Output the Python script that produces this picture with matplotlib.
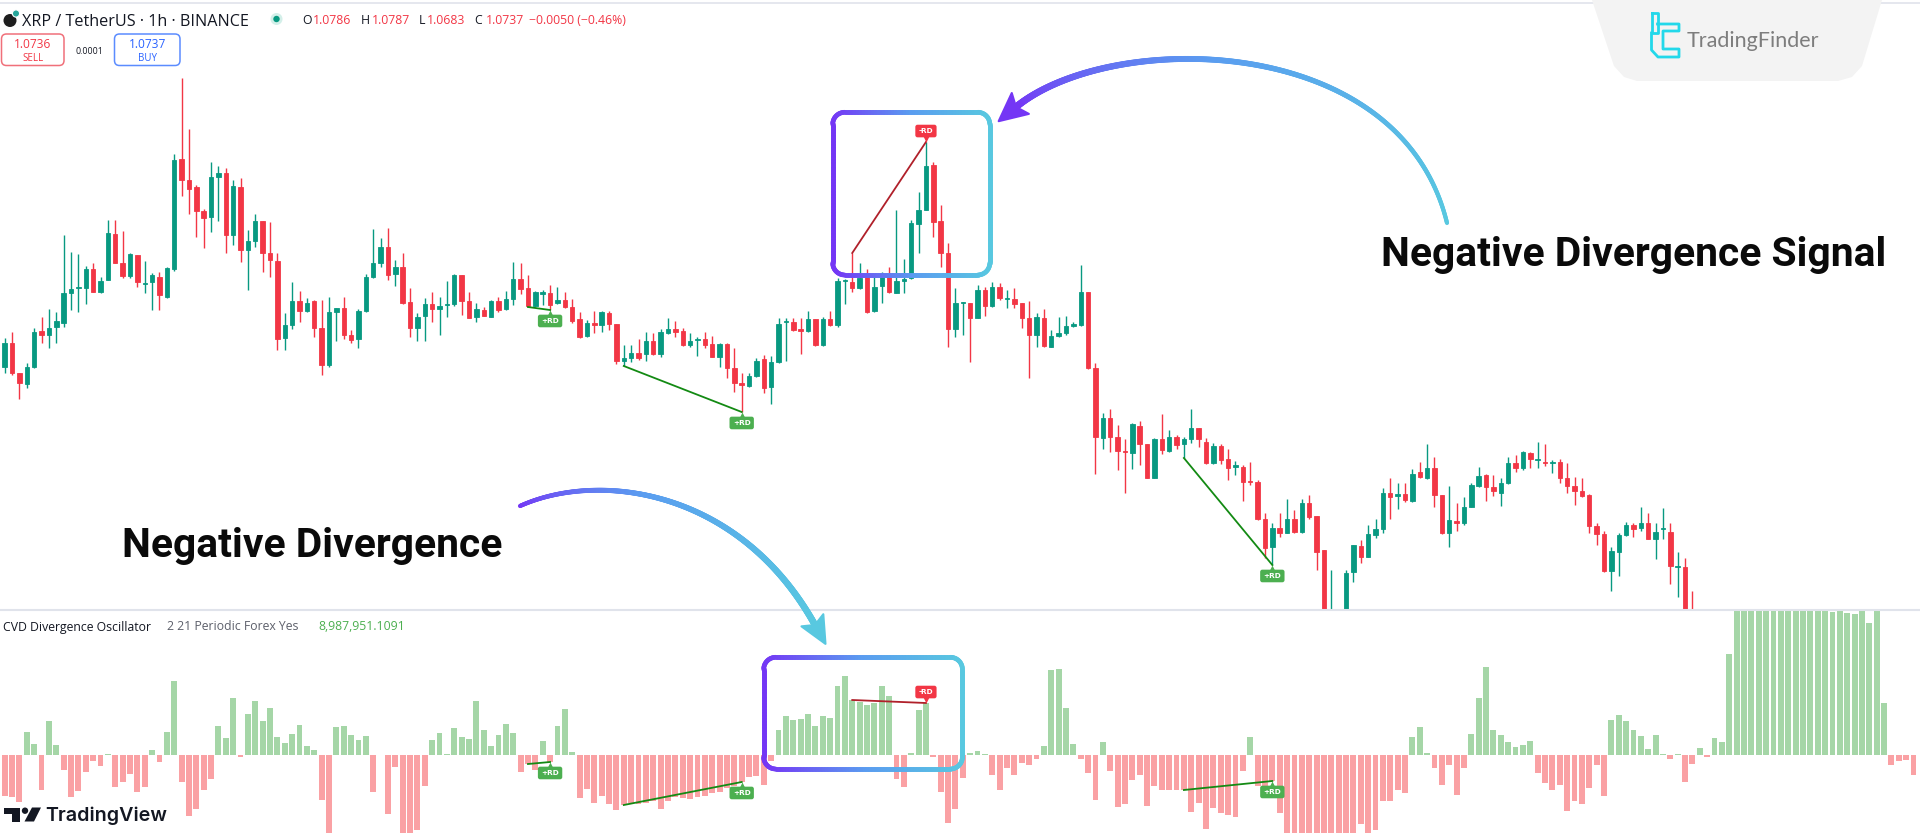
import numpy as np
import matplotlib
matplotlib.use("Agg")
import matplotlib.pyplot as plt
from matplotlib.collections import LineCollection
from matplotlib.colors import LinearSegmentedColormap
from matplotlib.patches import Polygon, FancyBboxPatch, Circle
from matplotlib.transforms import offset_copy

# ---------------- data (price in 0.0001 USDT units, CVD in millions) ----------------
open_t = [
    11233, 11257, 11227, 11216, 11233, 11269, 11265, 11273, 11277, 11307,
    11312, 11312, 11331, 11308, 11320, 11366, 11337, 11324, 11345, 11316,
    11318, 11323, 11303, 11331, 11441, 11420, 11413, 11389, 11383, 11423,
    11427, 11365, 11413, 11350, 11359, 11379, 11347, 11339, 11262, 11275,
    11299, 11289, 11299, 11272, 11235, 11288, 11292, 11265, 11261, 11289,
    11323, 11337, 11353, 11326, 11333, 11298, 11272, 11284, 11296, 11291,
    11295, 11296, 11325, 11299, 11283, 11290, 11283, 11299, 11291, 11301,
    11321, 11312, 11294, 11306, 11307, 11297, 11300, 11293, 11281, 11264,
    11277, 11275, 11287, 11276, 11239, 11242, 11247, 11246, 11259, 11246,
    11267, 11271, 11269, 11255, 11260, 11261, 11256, 11243, 11256, 11232,
    11217, 11214, 11224, 11241, 11213, 11238, 11278, 11278, 11271, 11269,
    11281, 11255, 11281, 11275, 11319, 11318, 11312, 11323, 11289, 11314,
    11323, 11307, 11319, 11322, 11376, 11390, 11435, 11379, 11347, 11271,
    11297, 11297, 11282, 11310, 11294, 11313, 11301, 11301, 11297, 11282,
    11265, 11282, 11253, 11264, 11267, 11274, 11275, 11308, 11232, 11162,
    11182, 11163, 11149, 11147, 11174, 11156, 11122, 11161, 11149, 11163,
    11156, 11161, 11172, 11158, 11137, 11154, 11141, 11133, 11133, 11119,
    11118, 11081, 11053, 11072, 11067, 11081, 11068, 11097, 11084, 11050,
    10960, 10975, 10975, 11028, 11054, 11043, 11065, 11071, 11107, 11104,
    11106, 11099, 11128, 11122, 11132, 11105, 11067, 11079, 11077, 11093,
    11114, 11125, 11113, 11107, 11117, 11137, 11132, 11147, 11140, 11138,
    11137, 11138, 11122, 11114, 11109, 11105, 11074, 11066, 11029, 11048,
    11065, 11075, 11072, 11077, 11061, 11071, 11068, 11033, 11033, 10980,
]
high_t = [
    11262, 11268, 11227, 11237, 11272, 11283, 11291, 11288, 11365, 11348,
    11346, 11334, 11337, 11323, 11380, 11380, 11369, 11347, 11345, 11339,
    11327, 11328, 11333, 11446, 11522, 11471, 11415, 11391, 11438, 11434,
    11432, 11420, 11422, 11370, 11386, 11379, 11378, 11347, 11287, 11318,
    11309, 11302, 11300, 11300, 11303, 11292, 11303, 11270, 11291, 11326,
    11371, 11362, 11372, 11340, 11347, 11312, 11287, 11302, 11308, 11303,
    11319, 11326, 11325, 11308, 11297, 11293, 11300, 11303, 11309, 11338,
    11337, 11325, 11309, 11310, 11315, 11313, 11308, 11301, 11288, 11280,
    11289, 11289, 11289, 11276, 11255, 11255, 11261, 11268, 11267, 11271,
    11282, 11279, 11272, 11267, 11263, 11268, 11264, 11257, 11257, 11252,
    11227, 11227, 11242, 11245, 11244, 11282, 11282, 11282, 11282, 11289,
    11281, 11283, 11289, 11322, 11321, 11347, 11337, 11331, 11323, 11328,
    11333, 11390, 11341, 11380, 11408, 11458, 11438, 11395, 11357, 11312,
    11298, 11297, 11315, 11313, 11318, 11317, 11310, 11312, 11297, 11299,
    11287, 11291, 11270, 11283, 11284, 11278, 11335, 11308, 11237, 11187,
    11191, 11175, 11161, 11177, 11179, 11156, 11162, 11186, 11170, 11165,
    11163, 11191, 11172, 11162, 11157, 11156, 11151, 11139, 11135, 11138,
    11120, 11087, 11077, 11087, 11101, 11090, 11101, 11105, 11084, 11050,
    11030, 10989, 11030, 11055, 11060, 11075, 11081, 11112, 11122, 11117,
    11117, 11131, 11138, 11156, 11143, 11105, 11114, 11097, 11103, 11117,
    11133, 11126, 11125, 11122, 11143, 11145, 11149, 11148, 11158, 11156,
    11140, 11141, 11137, 11123, 11122, 11106, 11077, 11069, 11053, 11067,
    11078, 11077, 11093, 11087, 11077, 11092, 11077, 11048, 11042, 11009,
]
low_t = [
    11227, 11225, 11201, 11212, 11232, 11257, 11252, 11257, 11273, 11290,
    11288, 11296, 11308, 11307, 11320, 11337, 11322, 11322, 11313, 11307,
    11290, 11290, 11302, 11329, 11404, 11386, 11363, 11352, 11368, 11379,
    11347, 11355, 11338, 11310, 11353, 11328, 11323, 11250, 11250, 11271,
    11278, 11288, 11263, 11225, 11233, 11259, 11261, 11257, 11252, 11288,
    11322, 11333, 11320, 11314, 11296, 11263, 11259, 11259, 11278, 11265,
    11283, 11294, 11285, 11282, 11278, 11284, 11283, 11288, 11290, 11295,
    11306, 11293, 11293, 11295, 11290, 11296, 11292, 11277, 11262, 11263,
    11267, 11268, 11270, 11236, 11234, 11238, 11240, 11239, 11245, 11243,
    11266, 11263, 11254, 11253, 11244, 11252, 11243, 11233, 11222, 11208,
    11188, 11213, 11223, 11207, 11196, 11237, 11239, 11269, 11246, 11268,
    11254, 11254, 11274, 11273, 11296, 11308, 11311, 11287, 11288, 11297,
    11307, 11307, 11307, 11321, 11347, 11390, 11363, 11333, 11253, 11263,
    11265, 11238, 11282, 11284, 11293, 11300, 11292, 11292, 11272, 11222,
    11253, 11253, 11253, 11263, 11265, 11273, 11274, 11231, 11126, 11151,
    11148, 11130, 11107, 11131, 11135, 11122, 11122, 11146, 11148, 11151,
    11142, 11157, 11153, 11136, 11136, 11136, 11120, 11125, 11099, 11115,
    11080, 11042, 11035, 11063, 11067, 11067, 11067, 11081, 11030, 10960,
    10950, 10960, 10970, 11018, 11037, 11043, 11062, 11067, 11081, 11091,
    11098, 11098, 11122, 11121, 11093, 11066, 11053, 11069, 11075, 11093,
    11113, 11099, 11104, 11094, 11116, 11128, 11130, 11132, 11132, 11134,
    11127, 11117, 11107, 11095, 11103, 11067, 11055, 11028, 11009, 11024,
    11064, 11063, 11069, 11061, 11041, 11061, 11016, 11003, 10950, 10940,
]
close_t = [
    11257, 11227, 11217, 11233, 11268, 11265, 11272, 11279, 11307, 11311,
    11313, 11331, 11308, 11319, 11367, 11337, 11324, 11346, 11318, 11317,
    11325, 11305, 11332, 11440, 11420, 11411, 11389, 11382, 11423, 11427,
    11365, 11414, 11350, 11359, 11379, 11347, 11340, 11261, 11275, 11299,
    11289, 11297, 11272, 11235, 11288, 11292, 11265, 11260, 11289, 11323,
    11337, 11353, 11325, 11333, 11297, 11272, 11283, 11296, 11291, 11294,
    11296, 11325, 11299, 11282, 11291, 11284, 11299, 11290, 11301, 11321,
    11311, 11294, 11308, 11308, 11295, 11300, 11293, 11279, 11263, 11277,
    11275, 11288, 11276, 11239, 11242, 11247, 11242, 11259, 11246, 11268,
    11271, 11268, 11255, 11259, 11261, 11255, 11243, 11256, 11232, 11217,
    11215, 11224, 11239, 11212, 11238, 11276, 11279, 11270, 11269, 11281,
    11255, 11281, 11275, 11319, 11320, 11312, 11322, 11288, 11313, 11323,
    11308, 11319, 11321, 11377, 11390, 11434, 11378, 11347, 11271, 11297,
    11298, 11282, 11310, 11294, 11313, 11302, 11302, 11296, 11282, 11265,
    11283, 11254, 11264, 11267, 11274, 11276, 11308, 11232, 11163, 11182,
    11163, 11149, 11148, 11176, 11156, 11122, 11161, 11150, 11163, 11155,
    11161, 11172, 11161, 11137, 11154, 11140, 11132, 11135, 11118, 11118,
    11081, 11052, 11072, 11067, 11081, 11068, 11097, 11083, 11048, 10975,
    10985, 10985, 11027, 11055, 11043, 11066, 11071, 11107, 11103, 11106,
    11100, 11126, 11123, 11132, 11105, 11067, 11080, 11077, 11093, 11115,
    11124, 11113, 11109, 11117, 11137, 11132, 11148, 11141, 11141, 11137,
    11138, 11122, 11114, 11109, 11104, 11074, 11066, 11029, 11049, 11065,
    11075, 11071, 11077, 11061, 11068, 11072, 11034, 11034, 10960, 10960,
]
cvd_m = [
    -4.1, -4.2, -4.7, 2.3, 1.1, -3.5, 3.4, 1.0, -1.5, -4.2,
    -3.6, -1.7, -0.6, -1.1, 0.1, -3.2, -2.7, -1.9, -3.7, -3.2,
    0.5, -0.7, 2.3, 7.4, -2.7, -6.1, -5.4, -3.5, -2.4, 2.9,
    1.7, 5.7, -0.2, 4.1, 5.4, 3.4, 4.7, 1.8, 1.2, 2.1,
    3.0, 0.9, 0.5, -4.5, -7.8, 2.8, 2.9, 2.0, 1.5, 1.9,
    -3.7, 0.05, -5.9, -1.2, -7.8, -7.8, -7.5, -3.1, 1.5, 2.2,
    0.1, 2.7, 1.8, 1.6, 5.4, 2.5, 0.9, 2.0, 3.1, 2.2,
    -1.7, -0.9, -1.5, 1.4, -0.7, 2.9, 4.6, 0.3, -4.3, -3.4,
    -4.8, -4.1, -4.9, -5.5, -5.0, -4.8, -4.9, -4.8, -4.6, -5.4,
    -4.6, -4.2, -4.3, -4.4, -4.2, -4.1, -3.8, -3.7, -3.3, -3.1,
    -2.7, -2.2, -2.1, -3.0, -0.6, 2.5, 3.9, 3.5, 3.6, 4.1,
    2.9, 3.9, 3.7, 6.9, 7.9, 5.5, 5.3, 5.0, 5.2, 6.9,
    5.9, -2.4, -3.2, 0.2, 4.5, 5.2, -0.2, -3.7, -6.8, -5.4,
    -2.3, 0.2, 0.4, 0.1, -2.0, -3.5, -1.3, -2.0, -0.8, -1.0,
    -0.4, 0.9, 8.5, 8.6, 4.7, 1.1, -0.4, -1.8, -4.5, 1.3,
    -1.6, -5.2, -4.9, -2.5, -2.0, -5.1, -3.1, -3.5, -3.5, -3.5,
    -3.5, -5.7, -4.8, -7.4, -5.3, -5.8, -6.0, -6.2, -1.6, 1.8,
    -3.1, -3.1, -2.6, -5.8, -7.8, -7.8, -7.8, -7.8, -7.8, -7.8,
    -7.8, -7.8, -7.8, -7.8, -6.9, -7.8, -7.5, -4.6, -4.6, -3.5,
    -3.8, 1.8, 2.8, 0.2, -1.3, -3.0, -1.0, -4.0, -1.3, 2.1,
    5.7, 8.8, 2.5, 2.0, 1.3, 0.8, 1.0, 1.4, -1.8, -2.8,
    -3.5, -3.0, -5.6, -4.6, -4.9, -3.3, -1.0, -4.1, 3.5, 4.0,
    3.4, 2.5, 1.9, 0.6, 2.0, 0.1, -0.4, 0.1, -2.7, -0.9,
    0.7, -0.2, 1.7, 1.3, 10.1, 16.0, 16.0, 16.0, 16.0, 16.0,
    16.0, 16.0, 16.0, 16.0, 16.0, 16.0, 16.0, 16.0, 14.3, 16.0,
    14.2, 14.1, 16.0, 13.2, 16.0, 5.2, -1.0, -0.6, -0.5, -2.0,
]
# divergences: (start bar, end bar, kind)
divergences = [(71, 74, "bull"), (84, 100, "bull"), (115, 125, "bear"), (160, 172, "bull")]

header_symbol = "XRP / TetherUS · 1h · BINANCE"
ohlc_labels = ["O", "H", "L", "C"]
ohlc_values = ["1.0786", "1.0787", "1.0683", "1.0737"]
change_text = "−0.0050 (−0.46%)"
sell_price, buy_price, spread = "1.0736", "1.0737", "0.0001"
ind_name, ind_params, ind_value = "CVD Divergence Oscillator", "2 21 Periodic Forex Yes", "8,987,951.1091"

# ---------------- styling ----------------
UP, DN = "#089981", "#f23645"
H_UP, H_DN = "#a5d6a7", "#faa1a4"
G_LINE, R_LINE = "#138a13", "#b0202a"
LBL_G, LBL_R = "#4caf50", "#f23645"
pc_cmap = LinearSegmentedColormap.from_list("pc", ["#7436f5", "#5a9cf0", "#58c8e0"])

W, H = 1920, 840
fig = plt.figure(figsize=(W / 100, H / 100), dpi=100)
fig.patch.set_facecolor("white")

SP, X0 = 7.37, 4.7
XLIM = (-X0 / SP, (W - X0) / SP)
SEP = 609

o = np.array(open_t) / 1e4
hi = np.array(high_t) / 1e4
lo = np.array(low_t) / 1e4
c = np.array(close_t) / 1e4
cvd = np.array(cvd_m)

# ---------------- price panel ----------------
ax_p = fig.add_axes([0, 1 - SEP / H, 1, SEP / H])
ax_p.set_xlim(*XLIM)
ax_p.set_ylim(1.0991, 1.16)
ax_p.axis("off")
idx = np.arange(len(o))
cols = np.where(c >= o, UP, DN)
ax_p.vlines(idx, lo, hi, colors=cols, lw=1.0, zorder=2)
ax_p.bar(idx, np.abs(c - o), bottom=np.minimum(o, c), width=0.6, color=cols,
         edgecolor=cols, lw=0.6, zorder=3)

# ---------------- histogram panel ----------------
ax_h = fig.add_axes([0, 0, 1, (H - 611) / H])
ax_h.set_xlim(*XLIM)
ax_h.set_ylim(-8.5, 14.4)
ax_h.axis("off")
hidx = np.arange(len(cvd))
ax_h.bar(hidx, cvd, width=0.8, color=np.where(cvd >= 0, H_UP, H_DN), lw=0, zorder=2)


def rd_label(ax, x, y, txt, col, up):
    s = 1 if up else -1
    ax.annotate(txt, xy=(x, y), xytext=(0, s * 7.9), textcoords="offset points",
                ha="center", va="center", fontsize=5.3, fontweight="bold", color="white",
                family=["DejaVu Sans"],
                bbox=dict(boxstyle="round,pad=0.45,rounding_size=0.3", fc=col, ec="none"),
                zorder=9, annotation_clip=False)
    tr = offset_copy(ax.transData, fig=fig, x=0, y=s * 2.3, units="points")
    ax.plot([x], [y], marker="v" if up else "^", ms=4.2, color=col, mec="none",
            transform=tr, zorder=9, clip_on=False)


for a, b, kind in divergences:
    if kind == "bull":
        ax_p.plot([a, b], [lo[a], lo[b]], color=G_LINE, lw=1.3, zorder=8)
        rd_label(ax_p, b, lo[b], "+RD", LBL_G, False)
        ax_h.plot([a, b], [cvd[a], cvd[b]], color=G_LINE, lw=1.3, zorder=8)
        rd_label(ax_h, b, cvd[b], "+RD", LBL_G, False)
    else:
        ax_p.plot([a, b], [hi[a], hi[b]], color=R_LINE, lw=1.3, zorder=8)
        rd_label(ax_p, b, hi[b], "-RD", LBL_R, True)
        ax_h.plot([a, b], [cvd[a], cvd[b]], color=R_LINE, lw=1.3, zorder=8)
        rd_label(ax_h, b, cvd[b], "-RD", LBL_R, True)

# ---------------- overlay (pixel coordinates, y downwards) ----------------
ov = fig.add_axes([0, 0, 1, 1])
ov.set_xlim(0, W)
ov.set_ylim(H, 0)
ov.axis("off")

ov.plot([0, W], [2.5, 2.5], color="#e0e3eb", lw=1.2, zorder=1)
ov.plot([0, W], [SEP + 1, SEP + 1], color="#e0e3eb", lw=1.5, zorder=1)


def densify(pts, step=1.5):
    pts = np.asarray(pts, float)
    out = [pts[0]]
    for p, q in zip(pts[:-1], pts[1:]):
        n = max(1, int(np.hypot(*(q - p)) / step))
        for k in range(1, n + 1):
            out.append(p + (q - p) * k / n)
    return np.array(out)


def grad_line(pts, vals, lw, z=10):
    segs = np.stack([pts[:-1], pts[1:]], axis=1)
    lc = LineCollection(segs, colors=pc_cmap(np.clip(vals, 0, 1)), linewidths=lw,
                        capstyle="round", joinstyle="round", zorder=z)
    ov.add_collection(lc)


def rounded_rect(x0, y0, x1, y1, r):
    pts = []
    for cx, cy, a0, a1 in [(x1 - r, y0 + r, -90, 0), (x1 - r, y1 - r, 0, 90),
                           (x0 + r, y1 - r, 90, 180), (x0 + r, y0 + r, 180, 270)]:
        a = np.radians(np.linspace(a0, a1, 16))
        pts += list(zip(cx + r * np.cos(a), cy + r * np.sin(a)))
    pts.append(pts[0])
    return densify(pts)


for (x0, y0, x1, y1) in [(832.7, 112.3, 989.8, 275.0), (763.7, 657.3, 962.4, 769.0)]:
    pts = rounded_rect(x0, y0, x1, y1, 12)
    mid = 0.5 * (pts[:-1, 0] + pts[1:, 0])
    grad_line(pts, (mid - x0) / (x1 - x0), 3.4)


def bezier(P, n=400):
    P = np.asarray(P, float)
    t = np.linspace(0, 1, n)[:, None]
    return ((1 - t) ** 3) * P[0] + 3 * ((1 - t) ** 2) * t * P[1] + 3 * (1 - t) * t ** 2 * P[2] + t ** 3 * P[3]


def arrow_head(tip_base, d, L, w, col):
    d = np.asarray(d, float)
    d = d / np.linalg.norm(d)
    n = np.array([-d[1], d[0]])
    base = np.asarray(tip_base, float)
    tip = base + 0.8 * L * d
    pts = [tip, tip - L * d + w * n, base, tip - L * d - w * n]
    ov.add_patch(Polygon(pts, closed=True, fc=col, ec=col, lw=1.5, joinstyle="round", zorder=11))


# top arrow: tail (right, cyan) -> head (left, purple)
P = [(1447, 223), (1400, 30), (1110, 30), (1016, 107)]
pts = bezier(P)
t = np.linspace(0, 1, len(pts) - 1)
grad_line(pts, (1 - t) ** 0.8, np.linspace(3.0, 5.0, len(t)))
arrow_head(P[3], np.subtract(P[3], P[2]), 28, 13.5, pc_cmap(0.0))

# bottom arrow: tail (left, purple) -> head (right, cyan)
P = [(520, 506), (600, 470), (740, 490), (815, 625)]
pts = bezier(P)
t = np.linspace(0, 1, len(pts) - 1)
grad_line(pts, t ** 0.8, np.linspace(3.0, 4.8, len(t)))
arrow_head(P[3], np.subtract(P[3], P[2]), 27, 12.5, pc_cmap(1.0))

big = dict(fontsize=29.3, fontweight="bold", color="#0a0a0a", family=["Roboto", "DejaVu Sans"],
           va="baseline", ha="left", zorder=12)
ov.text(1381, 266, "Negative Divergence Signal", **big)
ov.text(122, 557, "Negative Divergence", **big)

# ---------------- header ----------------
hf = ["Open Sans", "DejaVu Sans"]
ov.add_patch(Circle((10, 20.5), 6.5, fc="#1e1e1e", ec="none", zorder=5))
ov.add_patch(Circle((16, 13.5), 3.6, fc="#26a69a", ec="white", lw=0.8, zorder=6))
ov.text(22, 25.5, header_symbol, fontsize=11.6, color="#131722", family=hf, va="baseline", zorder=5)
ov.add_patch(Circle((276.5, 19), 6.0, fc="#d3efe9", ec="none", zorder=5))
ov.add_patch(Circle((276.5, 19), 3.2, fc="#089981", ec="none", zorder=6))
lab_x = [302, 361, 419, 474]
val_x = [312.5, 372, 427, 486]
for lx, vx, lt, vt in zip(lab_x, val_x, ohlc_labels, ohlc_values):
    ov.text(lx, 24.5, lt, fontsize=8.8, color="#131722", family=hf, va="baseline", zorder=5)
    ov.text(vx, 24.5, vt, fontsize=8.8, color="#f23645", family=hf, va="baseline", zorder=5)
ov.text(529, 24.5, change_text, fontsize=8.8, color="#f23645", family=hf, va="baseline", zorder=5)

ov.add_patch(FancyBboxPatch((1.5, 34), 62.5, 31.5, boxstyle="round,pad=0,rounding_size=5",
                            fc="white", ec="#f0707a", lw=1.1, zorder=5))
ov.text(32.7, 47.5, sell_price, fontsize=8.6, color="#f23645", family=hf, ha="center", va="baseline", zorder=6)
ov.text(32.7, 61, "SELL", fontsize=7.0, color="#f23645", family=hf, ha="center", va="baseline", zorder=6)
ov.text(89, 53.5, spread, fontsize=6.3, color="#131722", family=hf, ha="center", va="baseline", zorder=6)
ov.add_patch(FancyBboxPatch((114.5, 34), 65.5, 31.5, boxstyle="round,pad=0,rounding_size=5",
                            fc="white", ec="#5b8cff", lw=1.1, zorder=5))
ov.text(147.2, 47.5, buy_price, fontsize=8.6, color="#2962ff", family=hf, ha="center", va="baseline", zorder=6)
ov.text(147.2, 61, "BUY", fontsize=7.0, color="#2962ff", family=hf, ha="center", va="baseline", zorder=6)

# ---------------- watermark ----------------
ov.add_patch(Polygon([(1592, 0), (1882, 0), (1862, 66), (1852, 77), (1838, 81), (1637, 81),
                      (1624, 77), (1614, 66)], closed=True, fc="#f3f3f3", ec="none", zorder=4))
icon = "#22d8ea"
ov.plot([1651.5, 1651.5, 1657.5, 1657.5, 1651.5], [13, 33, 33, 13, 13], color=icon, lw=2.0, zorder=5)
ov.plot([1657.5, 1679, 1679, 1663, 1663, 1679, 1679, 1658, 1651.5, 1651.5],
        [24, 24, 31, 31, 49, 49, 57, 57, 50, 33], color=icon, lw=2.0, zorder=5)
ov.text(1687, 47, "TradingFinder", fontsize=15.5, color="#7d7d7d", family=["Lato", "DejaVu Sans"],
        va="baseline", zorder=5)

# ---------------- indicator legend ----------------
ov.text(3, 630.5, ind_name, fontsize=8.8, color="#131722", family=hf, va="baseline", zorder=5)
ov.text(167, 630.5, ind_params, fontsize=8.8, color="#5d606b", family=hf, va="baseline", zorder=5)
ov.text(318, 630.5, ind_value, fontsize=8.8, color="#4caf50", family=hf, va="baseline", zorder=5)

# ---------------- TradingView logo ----------------
ov.add_patch(Polygon([(4, 807.5), (19.5, 807.5), (19.5, 821.5), (12, 821.5), (12, 813.5), (4, 813.5)],
                     closed=True, fc="#131722", ec="none", zorder=5))
ov.add_patch(Circle((25, 810.7), 3.2, fc="#131722", ec="none", zorder=5))
ov.add_patch(Polygon([(32, 807.5), (41, 807.5), (34, 821.5), (24.5, 821.5)], closed=True,
                     fc="#131722", ec="none", zorder=5))
ov.text(45, 821, "TradingView", fontsize=14.2, color="#131722", family=["Inter", "DejaVu Sans"],
        fontweight="semibold", va="baseline", zorder=5)

fig.savefig("out.png", dpi=100, facecolor="white")
